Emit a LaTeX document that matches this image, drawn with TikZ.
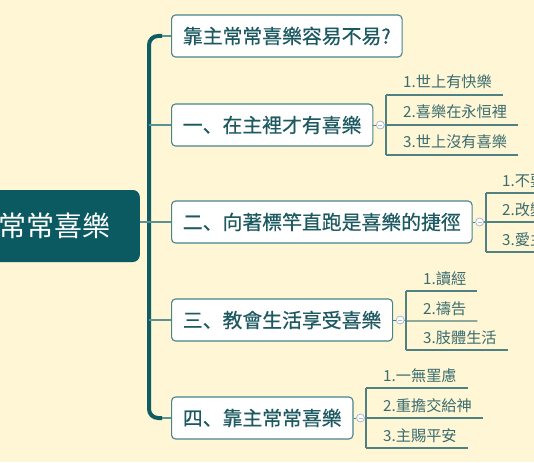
\documentclass[tikz,border=0pt]{standalone}
\usepackage{fontspec}
\newfontfamily\cjk{Noto Sans CJK TC}
\newfontfamily\cjkb[FakeBold=0.5]{Noto Sans CJK TC}
\newfontfamily\cjksc[FakeBold=0.5]{Noto Sans CJK SC}
\usetikzlibrary{calc}
\definecolor{bg}{HTML}{FEF6D4}
\definecolor{rootc}{HTML}{0B5961}
\definecolor{spinec}{HTML}{0F5C64}
\definecolor{linkc}{HTML}{5A9294}
\definecolor{boxc}{HTML}{4A8389}
\definecolor{btext}{HTML}{1D5961}
\definecolor{ltext}{HTML}{3A6C70}
\definecolor{leafc}{HTML}{4F8082}
\definecolor{circc}{HTML}{AAB8D4}
\tikzset{
  rootbox/.style={fill=rootc, rounded corners=7pt, text=white, inner xsep=29pt,
    minimum height=72pt, font=\cjk\fontsize{28}{29}\selectfont},
  branch/.style={draw=boxc, fill=white, rounded corners=4pt, line width=1.1pt,
    inner xsep=11.3pt, minimum height=42pt, text=btext,
    font=\cjkb\fontsize{19.85}{20}\selectfont},
  leaf/.style={inner sep=0pt, text=ltext, font=\cjk\fontsize{15.2}{16}\selectfont},
  leafline/.style={draw=leafc, line width=1.1pt},
  link/.style={draw=linkc, line width=1.3pt},
  spine/.style={draw=spinec, line width=4pt, rounded corners=9pt},
  collapse/.style={circle, draw=circc, fill=white, line width=0.8pt, minimum size=8pt, inner sep=0pt},
}
\newcommand{\dun}{{\cjksc 、}}
\begin{document}
\begin{tikzpicture}[x=1pt,y=-1pt]
\useasboundingbox (0,0) rectangle (534,462);
\fill[bg] (0,0) rectangle (534,462);
\begin{scope}
\clip (0,0) rectangle (534,462);
% root
\node[rootbox, anchor=east] (root) at (140,226) {常常喜樂};
% branches
\node[branch, anchor=west] (b1) at (171,36) {靠主常常喜樂容易不易?};
\node[branch, anchor=west] (b2) at (171,125) {一\dun 在主裡才有喜樂};
\node[branch, anchor=west] (b3) at (171,222) {二\dun 向著標竿直跑是喜樂的捷徑};
\node[branch, anchor=west] (b4) at (171,320) {三\dun 教會生活享受喜樂};
\node[branch, anchor=west] (b5) at (171,418) {四\dun 靠主常常喜樂};
% spine
\coordinate (sp1) at (162,36);
\coordinate (sp5) at (162,418);
\draw[spine] (sp1) -- (149,36) -- (149,418) -- (sp5);
\draw[link] (sp1) -- (b1.west);
\draw[link] (sp5) -- (b5.west);
\draw[link] (149,125) -- (b2.west);
\draw[link] (149,320) -- (b4.west);
\draw[link] (root.east |- b3.west) -- (b3.west);
% collapse circles
\foreach \b/\c in {b2/c2,b3/c3,b4/c4,b5/c5}{
  \node[collapse] (\c) at ($(\b.east)+(7,0)$) {};
  \draw[leafc, line width=0.7pt] (\b.east) -- (\c.west);
  \draw[circc, line width=0.8pt] ($(\c)+(-2,0)$) -- ($(\c)+(2,0)$);
}
% group 1
\coordinate (g1t) at (386,95);
\coordinate (g1m) at (386,125);
\coordinate (g1b) at (386,155);
\node[leaf, anchor=base west] (l11) at (403,88) {1.世上有快樂};
\node[leaf, anchor=base west] (l12) at (403,118) {2.喜樂在永恒裡};
\node[leaf, anchor=base west] (l13) at (403,148) {3.世上沒有喜樂};
\draw[leafline] (g1t) -- (g1b);
\draw[leafline] (g1t) -- ($(g1t -| l11.east)+(11,0)$);
\draw[leafline] (c2.east) -- (g1m) -- ($(g1m -| l12.east)+(11,0)$);
\draw[leafline] (g1b) -- ($(g1b -| l13.east)+(11,0)$);
% group 2
\coordinate (g2t) at (486,193);
\coordinate (g2m) at (486,222);
\coordinate (g2b) at (486,252);
\node[leaf, anchor=base west] (l21) at (502,186) {1.不要};
\node[leaf, anchor=base west] (l22) at (502,215) {2.改變};
\node[leaf, anchor=base west] (l23) at (502,245) {3.愛主};
\draw[leafline] (g2t) -- (g2b);
\draw[leafline] (g2t) -- ($(g2t -| l21.east)+(11,0)$);
\draw[leafline] (c3.east) -- (g2m) -- ($(g2m -| l22.east)+(11,0)$);
\draw[leafline] (g2b) -- ($(g2b -| l23.east)+(11,0)$);
% group 3
\coordinate (g3t) at (406,291);
\coordinate (g3m) at (406,321);
\coordinate (g3b) at (406,350);
\node[leaf, anchor=base west] (l31) at (423,284) {1.讀經};
\node[leaf, anchor=base west] (l32) at (423,314) {2.禱告};
\node[leaf, anchor=base west] (l33) at (423,343) {3.肢體生活};
\draw[leafline] (g3t) -- (g3b);
\draw[leafline] (g3t) -- ($(g3t -| l31.east)+(11,0)$);
\draw[leafline] (c4.east) -- (g3m) -- ($(g3m -| l32.east)+(11,0)$);
\draw[leafline] (g3b) -- ($(g3b -| l33.east)+(11,0)$);
% group 4
\coordinate (g4t) at (366,388);
\coordinate (g4m) at (366,418);
\coordinate (g4b) at (366,448);
\node[leaf, anchor=base west] (l41) at (383,381) {1.一無罣慮};
\node[leaf, anchor=base west] (l42) at (383,411) {2.重擔交給神};
\node[leaf, anchor=base west] (l43) at (383,441) {3.主賜平安};
\draw[leafline] (g4t) -- (g4b);
\draw[leafline] (g4t) -- ($(g4t -| l41.east)+(11,0)$);
\draw[leafline] (c5.east) -- (g4m) -- ($(g4m -| l42.east)+(11,0)$);
\draw[leafline] (g4b) -- ($(g4b -| l43.east)+(11,0)$);
\end{scope}
\end{tikzpicture}
\end{document}
